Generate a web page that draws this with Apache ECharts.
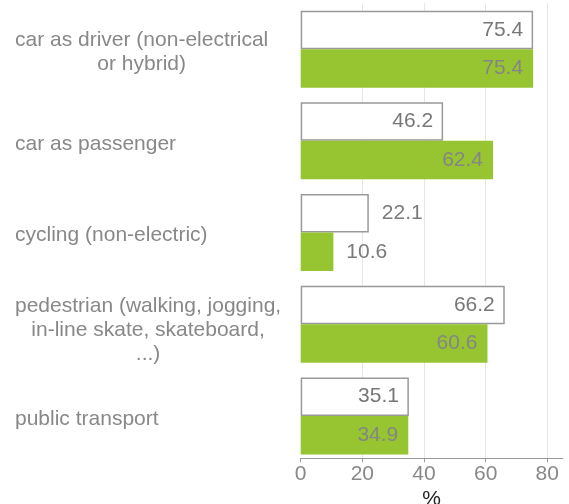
<!DOCTYPE html>
<html><head><meta charset="utf-8">
<script src="https://cdn.jsdelivr.net/npm/echarts@6/dist/echarts.min.js"></script>
<style>html,body{margin:0;padding:0;background:#fff}#c{width:569px;height:504px}</style>
</head><body><div id="c"></div>
<script>
const categories = [
  "car as driver (non-electrical\nor hybrid)",
  "car as passenger",
  "cycling (non-electric)",
  "pedestrian (walking, jogging,\nin-line skate, skateboard,\n...)",
  "public transport"
];
const seriesOutline = [75.4, 46.2, 22.1, 66.2, 35.1];
const seriesGreen = [75.4, 62.4, 10.6, 60.6, 34.9];
const xTicks = [0, 20, 40, 60, 80];
const xName = "%";

const FONT = "'Liberation Sans', Arial, sans-serif";
const FS = 21;

function toItems(vals, insideColor) {
  return vals.map(v => ({
    value: v,
    label: v < 30
      ? { position: 'right', distance: 13, color: '#7a7a7a' }
      : { position: 'insideRight', distance: 10, color: insideColor }
  }));
}

const richStyle = { c: { align: 'center', color: '#888', fontSize: FS, fontFamily: FONT, lineHeight: 24 } };
const catItems = categories.map(c => {
  const n = c.split('\n').length;
  return n >= 3 ? {
    value: c,
    textStyle: { align: 'left', color: '#888', fontSize: FS, fontFamily: FONT, lineHeight: 24,
                 padding: [12, 0, 0, 0], rich: richStyle }
  } : c;
});

const chart = echarts.init(document.getElementById('c'), null, { renderer: 'canvas' });
chart.setOption({
  animation: false,
  backgroundColor: '#fff',
  grid: { left: 300.7, right: 6.3, top: 3.3, bottom: 42.2, outerBoundsMode: 'none', containLabel: false },
  xAxis: {
    type: 'value', min: 0, max: 85, interval: 20,
    offset: -3.5,
    name: xName, nameLocation: 'middle', nameGap: 27,
    nameTextStyle: { color: '#222', fontSize: FS, fontFamily: FONT },
    axisLine: { show: true, lineStyle: { color: '#999', width: 1.2 } },
    axisTick: { show: true, length: 4, customValues: xTicks, lineStyle: { color: '#999' } },
    axisLabel: { customValues: xTicks, margin: 5, color: '#888', fontSize: FS, fontFamily: FONT },
    splitLine: { show: true, showMinLine: false, lineStyle: { color: '#e6e6e6', width: 1 } }
  },
  yAxis: {
    type: 'category', inverse: true, data: catItems,
    axisLine: { show: false }, axisTick: { show: false },
    axisLabel: {
      align: 'left', margin: 285.7, color: '#888', fontSize: FS, fontFamily: FONT, lineHeight: 24,
      padding: [6, 0, 0, 0],
      formatter: v => v.split('\n').map(l => '{c|' + l + '}').join('\n'),
      rich: richStyle
    }
  },
  series: [
    {
      type: 'bar', name: 'outline', data: toItems(seriesOutline, '#777'),
      barWidth: 38.5, barGap: '0%',
      itemStyle: { color: '#fff', borderColor: '#999', borderWidth: 1.5 },
      label: { show: true, fontSize: FS, fontFamily: FONT }
    },
    {
      type: 'bar', name: 'green', data: toItems(seriesGreen, '#858585'),
      barWidth: 38.5, barGap: '0%',
      itemStyle: { color: '#96c531' },
      label: { show: true, fontSize: FS, fontFamily: FONT }
    }
  ]
});
</script></body></html>
